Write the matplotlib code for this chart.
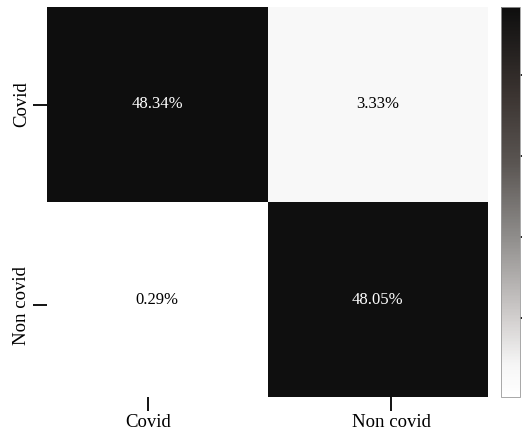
import numpy as np
import matplotlib.pyplot as plt
from matplotlib.colors import LinearSegmentedColormap

# confusion matrix, percentage of all test samples
classes = ["Covid", "Non covid"]
percent = np.array([
    [48.34, 3.33],
    [0.29, 48.05],
])
cbar_ticks = [10, 20, 30, 40]

# tick marks sit a bit off the cell centres
xtick_pos = [0.46, 1.56]
ytick_pos = [0.50, 1.53]

plt.rcParams["font.family"] = ["Liberation Serif", "DejaVu Serif"]

cmap = LinearSegmentedColormap.from_list("cm_grey", [
    (0.00, "#ffffff"),
    (0.08, "#f6f6f6"),
    (0.20, "#d2cfce"),
    (0.42, "#8c8a88"),
    (0.60, "#5a5552"),
    (0.78, "#3a3330"),
    (1.00, "#0e0e0e"),
])

fig = plt.figure(figsize=(5.22, 4.32), dpi=100)
ax = fig.add_axes([47 / 522, 1 - 397 / 432, 441 / 522, 390 / 432])
cax = fig.add_axes([501 / 522, 1 - 397 / 432, 19 / 522, 390 / 432])

vmin, vmax = percent.min(), percent.max()
mesh = ax.pcolormesh(percent, cmap=cmap, vmin=vmin, vmax=vmax)
ax.set_xlim(0, 2)
ax.set_ylim(2, 0)

for i in range(percent.shape[0]):
    for j in range(percent.shape[1]):
        v = percent[i, j]
        frac = (v - vmin) / (vmax - vmin)
        ax.text(j + 0.5, i + 0.5, f"{v:.2f}%", ha="center", va="center",
                fontsize=12, color="white" if frac > 0.5 else "black")

for s in ax.spines.values():
    s.set_visible(False)
ax.set_xticks(xtick_pos)
ax.set_xticklabels(classes, fontsize=13.5)
ax.set_yticks(ytick_pos)
ax.set_yticklabels(classes, fontsize=13.5, rotation=90, va="center")
ax.tick_params(length=10, width=1.3, pad=2)

cb = fig.colorbar(mesh, cax=cax, ticks=cbar_ticks)
cb.outline.set_edgecolor("#999999")
cb.outline.set_linewidth(0.6)
cax.tick_params(length=4, width=1.2, labelright=False)

fig.savefig("out.png", dpi=100)
